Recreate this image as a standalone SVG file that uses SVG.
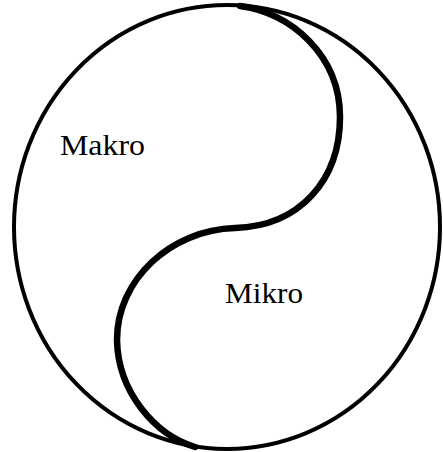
<svg xmlns="http://www.w3.org/2000/svg" width="443" height="452" viewBox="0 0 443 452">
<style>
.outline{fill:none;stroke:#000;stroke-width:4}
.divider{fill:none;stroke:#000;stroke-width:6.5;stroke-linecap:round}
.lbl{font-family:"Liberation Serif","Times New Roman",serif;font-size:30px;fill:#000}
</style>
<rect width="443" height="452" fill="#fff"/>
<g id="circle">
<ellipse class="outline" cx="227" cy="227" rx="213" ry="222"/>
</g>
<g id="connectors">
<path class="divider" d="M 240,6 C 290,12 340,55 340,117 C 340,180 300,226 235,228 C 170,230 117,280 117,340 C 118,392 155,435 195,447"/>
</g>
<g id="makro">
<text class="lbl" x="60" y="155" textLength="85" lengthAdjust="spacingAndGlyphs">Makro</text>
</g>
<g id="mikro">
<text class="lbl" x="225" y="303" textLength="78" lengthAdjust="spacingAndGlyphs">Mikro</text>
</g>
</svg>
